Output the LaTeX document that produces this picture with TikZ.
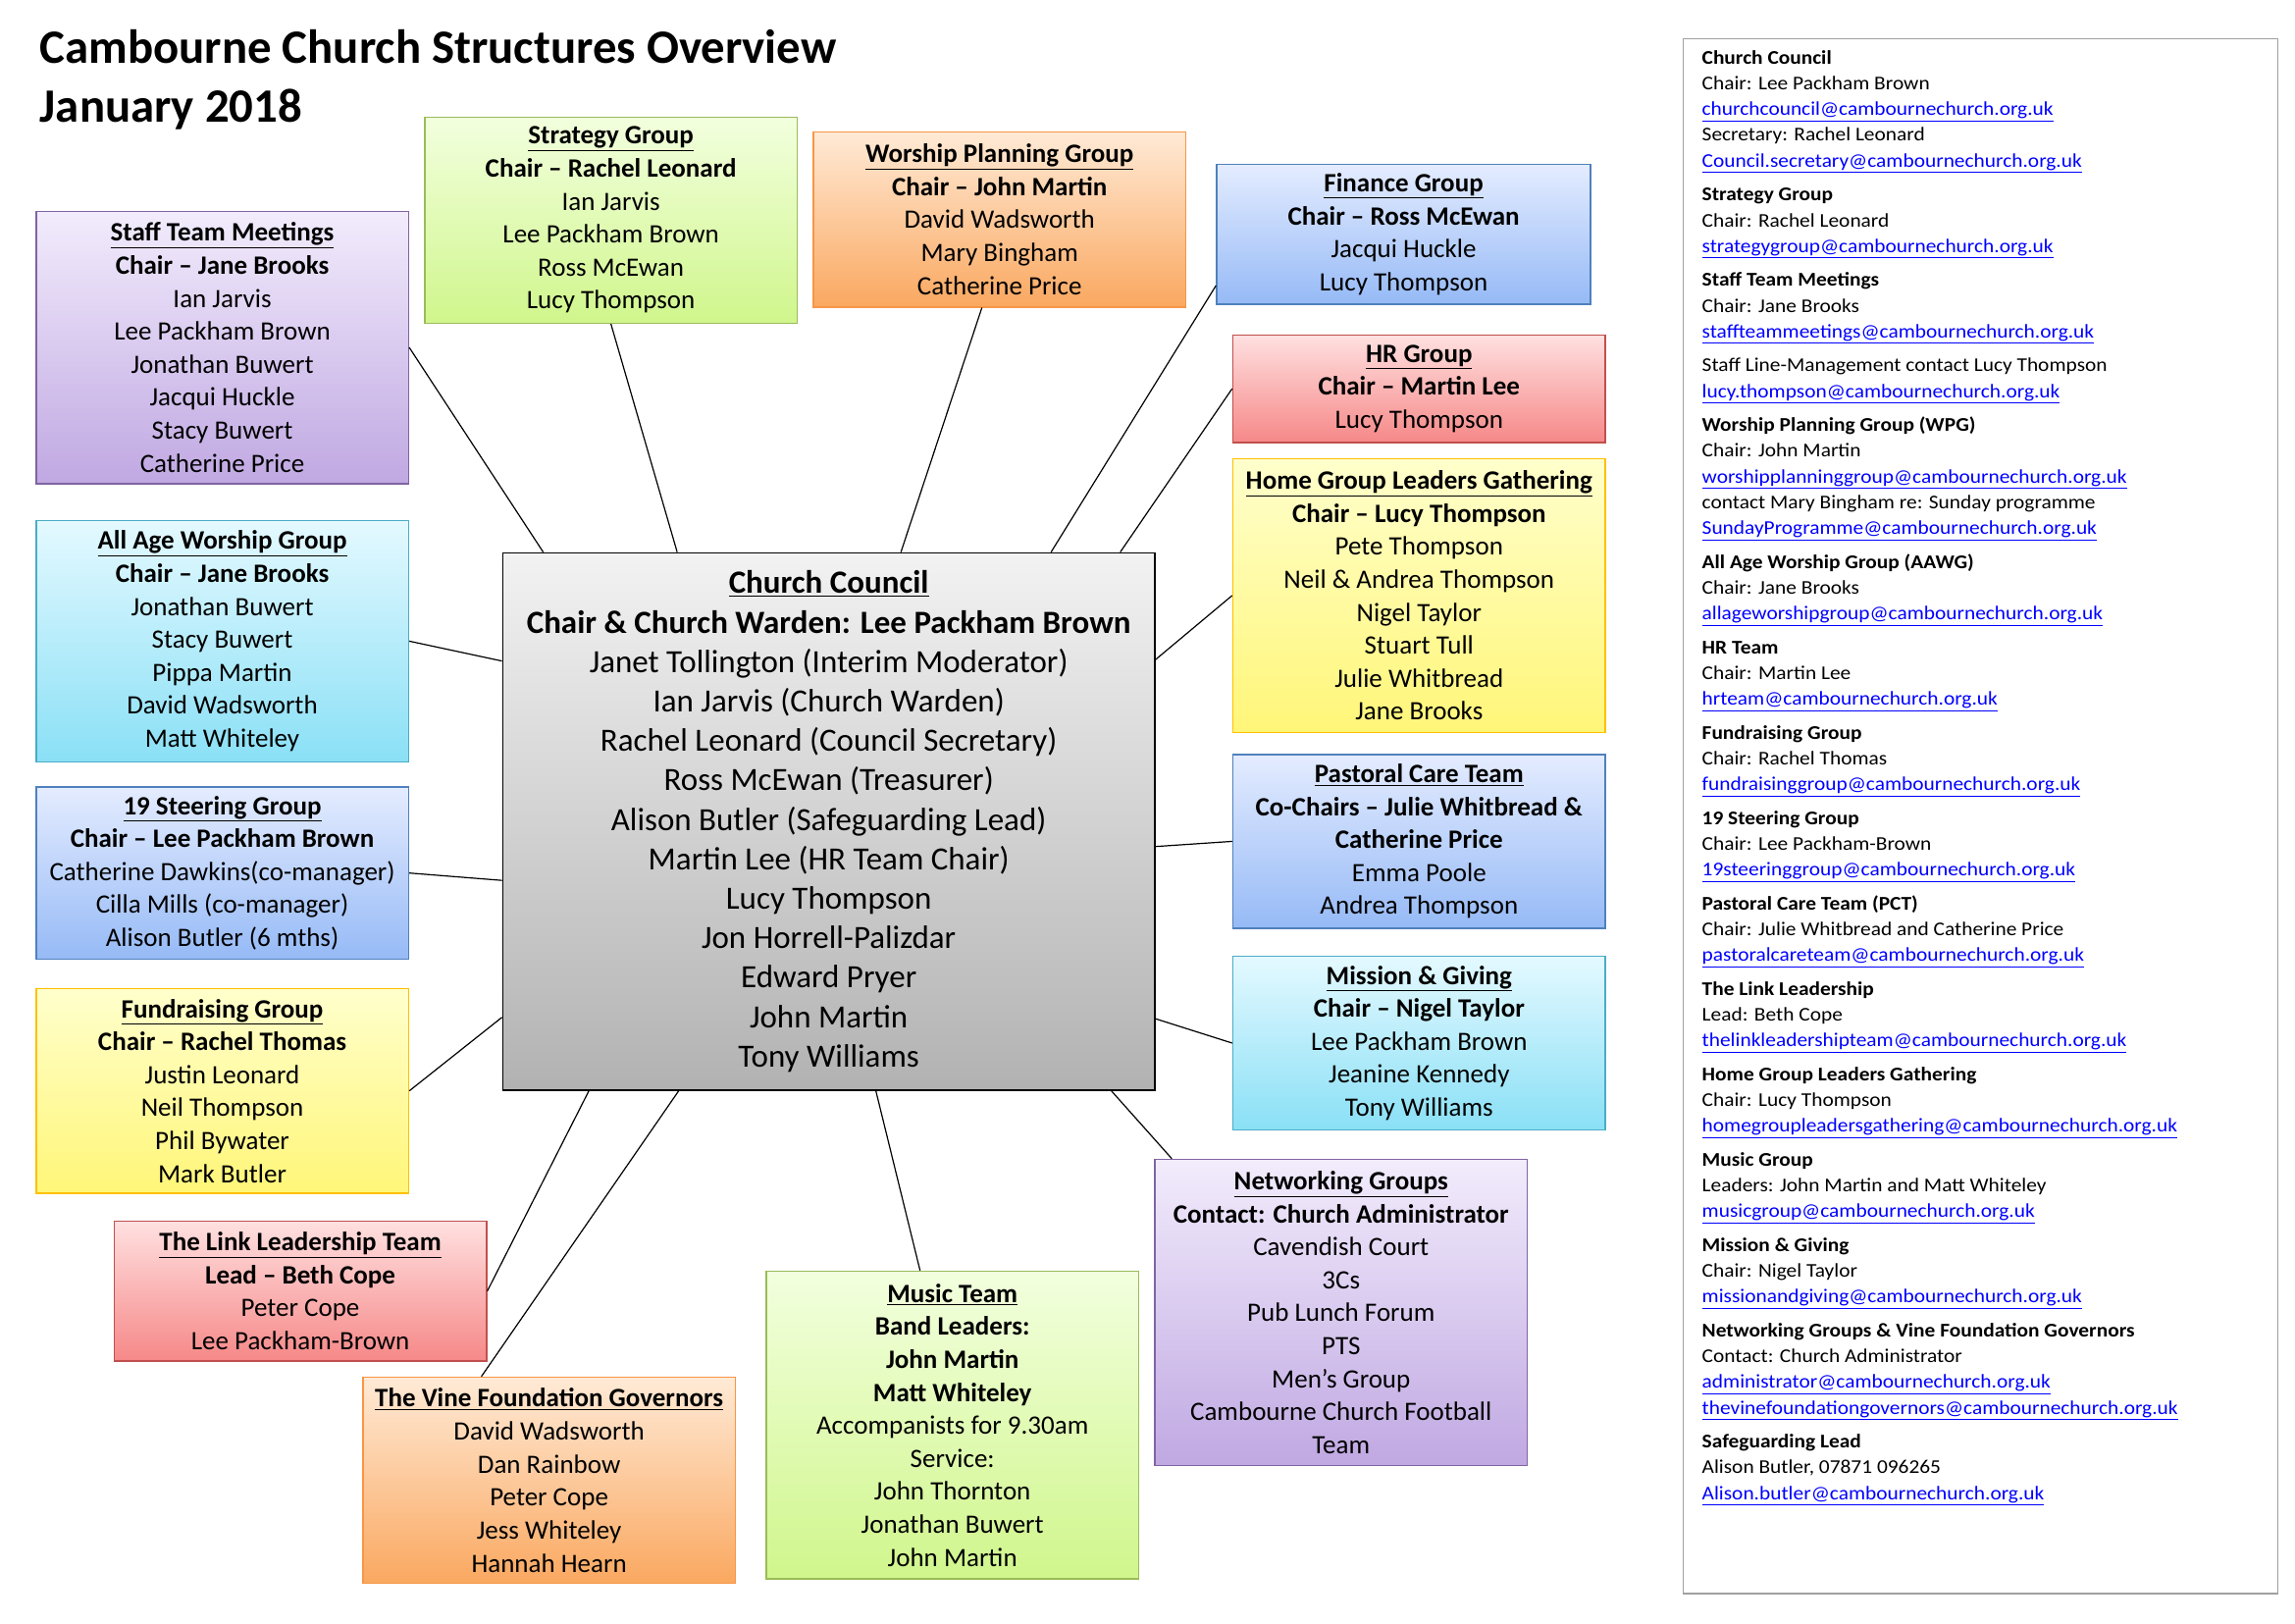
\documentclass[tikz,border=0pt]{standalone}
\usepackage{fontspec}
\setmainfont{Carlito}
\newfontfamily\widefont[FakeStretch=1.08]{Carlito}
\begin{document}
\begin{tikzpicture}[x=1pt,y=-1pt,
 box/.style={draw, line width=1pt, anchor=north west, inner sep=2pt, align=center, minimum width=253pt, font=\fontsize{18}{22.4}\selectfont},
 lav/.style={draw={rgb,255:red,128;green,100;blue,162}, top color={rgb,255:red,242;green,236;blue,252}, bottom color={rgb,255:red,192;green,168;blue,226}},
 grn/.style={draw={rgb,255:red,155;green,187;blue,89}, top color={rgb,255:red,242;green,255;blue,222}, bottom color={rgb,255:red,208;green,246;blue,140}},
 org/.style={draw={rgb,255:red,247;green,150;blue,70}, top color={rgb,255:red,255;green,234;blue,214}, bottom color={rgb,255:red,250;green,168;blue,96}},
 blu/.style={draw={rgb,255:red,79;green,129;blue,189}, top color={rgb,255:red,228;green,236;blue,255}, bottom color={rgb,255:red,150;green,186;blue,246}},
 red/.style={draw={rgb,255:red,192;green,80;blue,77}, top color={rgb,255:red,255;green,224;blue,224}, bottom color={rgb,255:red,246;green,136;blue,136}},
 yel/.style={draw={rgb,255:red,255;green,192;blue,0}, top color={rgb,255:red,255;green,255;blue,204}, bottom color={rgb,255:red,255;green,246;blue,120}},
 cyn/.style={draw={rgb,255:red,75;green,172;blue,198}, top color={rgb,255:red,228;green,249;blue,255}, bottom color={rgb,255:red,138;green,224;blue,246}},
 conn/.style={draw, line width=0.8pt}
]
\useasboundingbox (0,0) rectangle (1559,1102.5);
\fill[white] (0,0) rectangle (1559,1102.5);
\node[anchor=north west, align=left, inner sep=0, font=\fontsize{32.5}{40}\selectfont\bfseries] (title) at (27,20) {Cambourne Church Structures Overview\\January 2018};

\newcommand{\hd}[1]{\underline{\textbf{#1}}}
\node[box, draw=black, top color={rgb,255:red,242;green,242;blue,242}, bottom color={rgb,255:red,178;green,178;blue,178}, minimum width=443pt, minimum height=365pt, font=\fontsize{22}{26.8}\selectfont] (cc) at (341,375) {\hd{Church Council}\\\textbf{Chair \& Church Warden: Lee Packham Brown}\\Janet Tollington (Interim Moderator)\\Ian Jarvis (Church Warden)\\Rachel Leonard (Council Secretary)\\Ross McEwan (Treasurer)\\Alison Butler (Safeguarding Lead)\\Martin Lee (HR Team Chair)\\Lucy Thompson\\Jon Horrell-Palizdar\\Edward Pryer\\John Martin\\Tony Williams};

\node[box, lav, minimum height=185pt] (staff) at (24,143) {\hd{Staff Team Meetings}\\\textbf{Chair – Jane Brooks}\\Ian Jarvis\\Lee Packham Brown\\Jonathan Buwert\\Jacqui Huckle\\Stacy Buwert\\Catherine Price};
\node[box, grn, minimum height=140pt] (strat) at (288,79) {\hd{Strategy Group}\\\textbf{Chair – Rachel Leonard}\\Ian Jarvis\\Lee Packham Brown\\Ross McEwan\\Lucy Thompson};
\node[box, org, minimum height=119pt] (wpg) at (552,89) {\hd{Worship Planning Group}\\\textbf{Chair – John Martin}\\David Wadsworth\\Mary Bingham\\Catherine Price};
\node[box, blu, minimum width=254pt, minimum height=95pt] (fin) at (826,111) {\hd{Finance Group}\\\textbf{Chair – Ross McEwan}\\Jacqui Huckle\\Lucy Thompson};
\node[box, red, minimum height=73pt] (hr) at (837,227) {\hd{HR Group}\\\textbf{Chair – Martin Lee}\\Lucy Thompson};
\node[box, yel, minimum height=186pt] (home) at (837,311) {\hd{Home Group Leaders Gathering}\\\textbf{Chair – Lucy Thompson}\\Pete Thompson\\Neil \& Andrea Thompson\\Nigel Taylor\\Stuart Tull\\Julie Whitbread\\Jane Brooks};
\node[box, blu, minimum height=118pt] (past) at (837,512) {\hd{Pastoral Care Team}\\\textbf{Co-Chairs – Julie Whitbread \&}\\\textbf{Catherine Price}\\Emma Poole\\Andrea Thompson};
\node[box, cyn, minimum height=118pt] (miss) at (837,649) {\hd{Mission \& Giving}\\\textbf{Chair – Nigel Taylor}\\Lee Packham Brown\\Jeanine Kennedy\\Tony Williams};
\node[box, lav, minimum height=208pt] (net) at (784,787) {\hd{Networking Groups}\\\textbf{Contact: Church Administrator}\\Cavendish Court\\3Cs\\Pub Lunch Forum\\PTS\\Men's Group\\Cambourne Church Football\\Team};
\node[box, grn, minimum height=209pt] (music) at (520,863) {\hd{Music Team}\\\textbf{Band Leaders:}\\\textbf{John Martin}\\\textbf{Matt Whiteley}\\Accompanists for 9.30am\\Service:\\John Thornton\\Jonathan Buwert\\John Martin};
\node[box, org, minimum height=140pt] (vine) at (246,935) {\hd{The Vine Foundation Governors}\\David Wadsworth\\Dan Rainbow\\Peter Cope\\Jess Whiteley\\Hannah Hearn};
\node[box, red, minimum height=95pt] (link) at (77,829) {\hd{The Link Leadership Team}\\\textbf{Lead – Beth Cope}\\Peter Cope\\Lee Packham-Brown};
\node[box, yel, minimum height=139pt] (fund) at (24,671) {\hd{Fundraising Group}\\\textbf{Chair – Rachel Thomas}\\Justin Leonard\\Neil Thompson\\Phil Bywater\\Mark Butler};
\node[box, blu, minimum height=117pt] (steer) at (24,534) {\hd{19 Steering Group}\\\textbf{Chair – Lee Packham Brown}\\Catherine Dawkins(co-manager)\\Cilla Mills (co-manager)\\Alison Butler (6 mths)};
\node[box, cyn, minimum height=164pt] (aawg) at (24,353) {\hd{All Age Worship Group}\\\textbf{Chair – Jane Brooks}\\Jonathan Buwert\\Stacy Buwert\\Pippa Martin\\David Wadsworth\\Matt Whiteley};

\draw[conn] (staff.east) -- ([xshift=28pt]cc.north west);
\draw[conn] (strat.south) -- ([xshift=119pt]cc.north west);
\draw[conn] ([xshift=-12pt]wpg.south) -- ([xshift=271pt]cc.north west);
\draw[conn] ([yshift=13pt]fin.south west) -- ([xshift=-71pt]cc.north east);
\draw[conn] (hr.west) -- ([xshift=-24pt]cc.north east);
\draw[conn] (home.west) -- ([yshift=-73pt]cc.north east);
\draw[conn] (past.west) -- ([yshift=-17pt]cc.east);
\draw[conn] (miss.west) -- ([yshift=49pt]cc.south east);
\draw[conn] ([xshift=12pt]net.north west) -- ([xshift=-30pt]cc.south east);
\draw[conn] ([xshift=-22pt]music.north) -- ([xshift=254pt]cc.south west);
\draw[conn] ([xshift=-46pt]vine.north) -- ([xshift=120pt]cc.south west);
\draw[conn] (link.east) -- ([xshift=59pt]cc.south west);
\draw[conn] (fund.east) -- ([yshift=50pt]cc.south west);
\draw[conn] (steer.east) -- ([yshift=-40pt]cc.west);
\draw[conn] (aawg.east) -- ([yshift=-74pt]cc.north west);

\node[draw={rgb,255:red,160;green,160;blue,160}, line width=0.8pt, anchor=north west, minimum width=404pt, minimum height=1056pt, inner sep=0] (panel) at (1143,26) {};
\newcommand{\lk}[1]{\textcolor{blue}{\underline{#1}}}
\newcommand{\gp}{\\[5.5pt]}
\node[anchor=north west, align=left, inner sep=0, font=\widefont\fontsize{13.2}{17.5}\selectfont] (info) at (1156,34) {%
\textbf{Church Council}\\Chair: Lee Packham Brown\\\lk{churchcouncil@cambournechurch.org.uk}\\Secretary: Rachel Leonard\\\lk{Council.secretary@cambournechurch.org.uk}\gp
\textbf{Strategy Group}\\Chair: Rachel Leonard\\\lk{strategygroup@cambournechurch.org.uk}\gp
\textbf{Staff Team Meetings}\\Chair: Jane Brooks\\\lk{staffteammeetings@cambournechurch.org.uk}\gp
Staff Line-Management contact Lucy Thompson\\\lk{lucy.thompson@cambournechurch.org.uk}\gp
\textbf{Worship Planning Group (WPG)}\\Chair: John Martin\\\lk{worshipplanninggroup@cambournechurch.org.uk}\\contact Mary Bingham re: Sunday programme\\\lk{SundayProgramme@cambournechurch.org.uk}\gp
\textbf{All Age Worship Group (AAWG)}\\Chair: Jane Brooks\\\lk{allageworshipgroup@cambournechurch.org.uk}\gp
\textbf{HR Team}\\Chair: Martin Lee\\\lk{hrteam@cambournechurch.org.uk}\gp
\textbf{Fundraising Group}\\Chair: Rachel Thomas\\\lk{fundraisinggroup@cambournechurch.org.uk}\gp
\textbf{19 Steering Group}\\Chair: Lee Packham-Brown\\\lk{19steeringgroup@cambournechurch.org.uk}\gp
\textbf{Pastoral Care Team (PCT)}\\Chair: Julie Whitbread and Catherine Price\\\lk{pastoralcareteam@cambournechurch.org.uk}\gp
\textbf{The Link Leadership}\\Lead: Beth Cope\\\lk{thelinkleadershipteam@cambournechurch.org.uk}\gp
\textbf{Home Group Leaders Gathering}\\Chair: Lucy Thompson\\\lk{homegroupleadersgathering@cambournechurch.org.uk}\gp
\textbf{Music Group}\\Leaders: John Martin and Matt Whiteley\\\lk{musicgroup@cambournechurch.org.uk}\gp
\textbf{Mission \& Giving}\\Chair: Nigel Taylor\\\lk{missionandgiving@cambournechurch.org.uk}\gp
\textbf{Networking Groups \& Vine Foundation Governors}\\Contact: Church Administrator\\\lk{administrator@cambournechurch.org.uk}\\\lk{thevinefoundationgovernors@cambournechurch.org.uk}\gp
\textbf{Safeguarding Lead}\\Alison Butler, 07871 096265\\\lk{Alison.butler@cambournechurch.org.uk}};
\end{tikzpicture}
\end{document}
